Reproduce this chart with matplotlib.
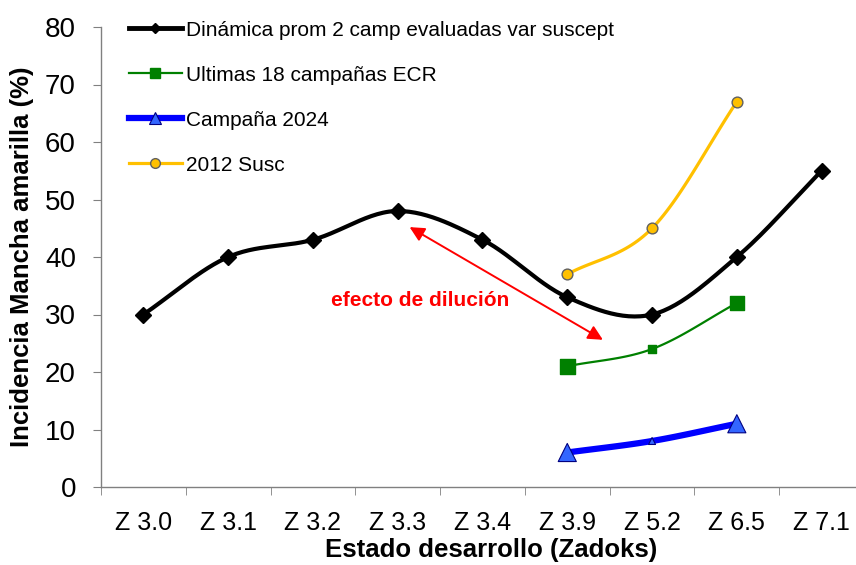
import matplotlib
matplotlib.use('Agg')
import matplotlib.pyplot as plt
import numpy as np
from matplotlib.lines import Line2D

plt.rcParams['font.family'] = ['Liberation Sans', 'DejaVu Sans']

STAGES = ['Z 3.0', 'Z 3.1', 'Z 3.2', 'Z 3.3', 'Z 3.4', 'Z 3.9', 'Z 5.2', 'Z 6.5', 'Z 7.1']

dinamica = [30, 40, 43, 48, 43, 33, 30, 40, 55]
ultimas_stages = ['Z 3.9', 'Z 5.2', 'Z 6.5']
ultimas = [21, 24, 32]
campana_2024 = [6, 8, 11]
susc_2012 = [37, 45, 67]

LABELS = [
    'Dinámica prom 2 camp evaluadas var suscept',
    'Ultimas 18 campañas ECR',
    'Campaña 2024',
    '2012 Susc',
]


def smooth(x, y, n=30):
    # Catmull-Rom, roughly what Excel does for "smoothed line"
    x = np.asarray(x, float)
    y = np.asarray(y, float)
    px = np.concatenate([[2 * x[0] - x[1]], x, [2 * x[-1] - x[-2]]])
    py = np.concatenate([[2 * y[0] - y[1]], y, [2 * y[-1] - y[-2]]])
    out_x, out_y = [], []
    t = np.linspace(0, 1, n)
    for i in range(1, len(px) - 2):
        for p, out in ((px, out_x), (py, out_y)):
            p0, p1, p2, p3 = p[i - 1], p[i], p[i + 1], p[i + 2]
            out.extend(0.5 * ((2 * p1) + (-p0 + p2) * t
                              + (2 * p0 - 5 * p1 + 4 * p2 - p3) * t ** 2
                              + (-p0 + 3 * p1 - 3 * p2 + p3) * t ** 3))
    return np.array(out_x), np.array(out_y)


fig = plt.figure(figsize=(8.56, 5.65), dpi=100)
ax = fig.add_axes([101 / 856, 78 / 565, 763 / 856, 460 / 565])

xi = np.arange(len(STAGES))
xs = np.array([STAGES.index(s) for s in ultimas_stages])

# black series
sx, sy = smooth(xi, dinamica)
ax.plot(sx, sy, color='black', lw=3, zorder=3, solid_capstyle='round')
ax.plot(xi, dinamica, ls='none', marker='D', ms=8.5, color='black', zorder=4)

# green
sx, sy = smooth(xs, ultimas)
ax.plot(sx, sy, color='#008000', lw=1.6, zorder=3)
ax.scatter(xs, ultimas, marker='s', s=[110, 40, 110], color='#008000', zorder=4)

# blue
sx, sy = smooth(xs, campana_2024)
ax.plot(sx, sy, color='#0000FF', lw=4.5, zorder=3, solid_capstyle='round')
ax.scatter(xs, campana_2024, marker='^', s=[170, 25, 170], facecolor='#3366FF',
           edgecolor='#000080', linewidth=0.8, zorder=4)

# yellow
sx, sy = smooth(xs, susc_2012)
ax.plot(sx, sy, color='#FFC000', lw=2.3, zorder=3)
ax.scatter(xs, susc_2012, marker='o', s=60, facecolor='#FFC000',
           edgecolor='#606060', linewidth=1, zorder=4)

# arrow + note
ax.annotate('', xy=(3.14, 45.2), xytext=(5.42, 25.6),
            arrowprops=dict(arrowstyle='<|-|>', color='red', lw=1.4,
                            mutation_scale=22, shrinkA=0, shrinkB=0))
ax.text(3.27, 32.5, 'efecto de dilución', color='red', fontsize=15,
        fontweight='bold', ha='center', va='center')

ax.set_xlim(-0.5, len(STAGES) - 0.5)
ax.set_ylim(0, 80)
ax.set_yticks(range(0, 81, 10))
ax.set_xticks(xi)
ax.set_xticklabels(STAGES)
ax.set_xticks(np.arange(-0.5, len(STAGES), 1), minor=True)
ax.tick_params(axis='x', which='major', length=0, pad=17, labelsize=18)
ax.tick_params(axis='x', which='minor', length=6, color='#808080', direction='out')
ax.tick_params(axis='y', length=6, color='#808080', pad=12, labelsize=20)

for s in ('top', 'right'):
    ax.spines[s].set_visible(False)
for s in ('left', 'bottom'):
    ax.spines[s].set_color('#808080')
    ax.spines[s].set_linewidth(1)

ax.set_xlabel('Estado desarrollo (Zadoks)', fontsize=18.5, fontweight='bold', labelpad=4)
ax.xaxis.set_label_coords((491 - 101) / 763, -0.11)
ax.set_ylabel('Incidencia Mancha amarilla (%)', fontsize=18.5, fontweight='bold', labelpad=8)

handles = [
    Line2D([], [], color='black', lw=3.5, marker='D', ms=5),
    Line2D([], [], color='#008000', lw=1.6, marker='s', ms=7),
    Line2D([], [], color='#0000FF', lw=4.5, marker='^', ms=8,
           markerfacecolor='#3366FF', markeredgecolor='#000080', markeredgewidth=0.8),
    Line2D([], [], color='#FFC000', lw=2.3, marker='o', ms=7,
           markerfacecolor='#FFC000', markeredgecolor='#606060'),
]
ax.legend(handles, LABELS, loc='upper left', bbox_to_anchor=(112 / 856, 0.993),
          bbox_transform=fig.transFigure, frameon=False, fontsize=15,
          handlelength=2.55, handletextpad=0.2, labelspacing=1.25,
          borderaxespad=0.4)

fig.savefig('out.png', dpi=100)
